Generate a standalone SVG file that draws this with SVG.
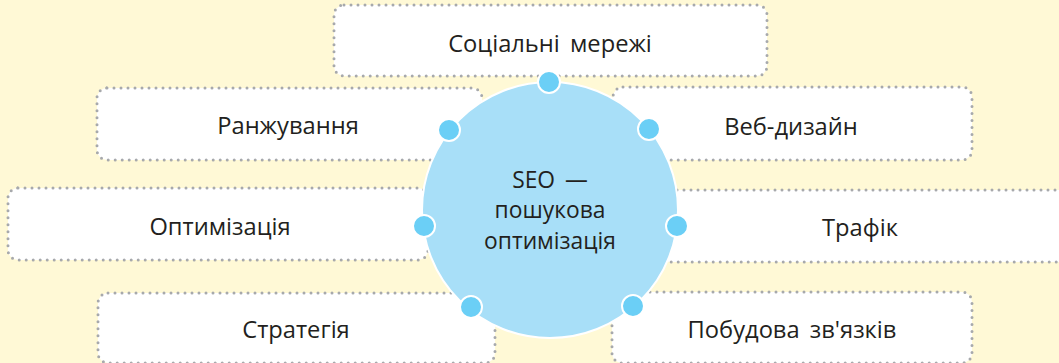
<svg xmlns="http://www.w3.org/2000/svg" width="1059" height="363" viewBox="0 0 1059 363">
<style>
.box{fill:#fff;stroke:#a7a9ac;stroke-width:3;stroke-dasharray:0 7;stroke-linecap:round}
.lbl{font-family:"Open Sans","Noto Sans",sans-serif;font-size:23.7px;fill:#231f20;text-anchor:middle;word-spacing:4px}
.c{font-size:22.8px}
.dot{fill:#6bcff6;stroke:#fff;stroke-width:2}
</style>
<rect width="1059" height="363" fill="#fff9d6"/>
<g id="n-social"><rect class="box" x="334" y="5" width="433" height="71" rx="10"/><text class="lbl" x="550" y="52">Соціальні мережі</text></g>
<g id="n-rank"><rect class="box" x="97" y="88" width="385" height="72" rx="10"/><text class="lbl" x="288" y="134">Ранжування</text></g>
<g id="n-web"><rect class="box" x="613" y="87" width="359" height="73" rx="10"/><text class="lbl" x="791" y="135">Веб-дизайн</text></g>
<g id="n-opt"><rect class="box" x="8" y="188" width="420" height="72" rx="10"/><text class="lbl" x="220" y="235">Оптимізація</text></g>
<g id="n-traffic"><rect class="box" x="660" y="190" width="420" height="72" rx="10"/><text class="lbl" x="860" y="236">Трафік</text></g>
<g id="n-strat"><rect class="box" x="98" y="293" width="397" height="70" rx="10"/><text class="lbl" x="296" y="338">Стратегія</text></g>
<g id="n-links"><rect class="box" x="612" y="292" width="360" height="71" rx="10"/><text class="lbl" x="792" y="338">Побудова зв'язків</text></g>
<g id="n-seo">
<circle cx="550" cy="210" r="128" fill="#a8dff8" stroke="#fff" stroke-width="2"/>
<text class="lbl c" x="550" y="188">SEO —</text>
<text class="lbl c" x="550" y="218">пошукова</text>
<text class="lbl c" x="550" y="249">оптимізація</text>
</g>
<g id="connectors">
<circle class="dot" cx="549" cy="82" r="11"/>
<circle class="dot" cx="449" cy="130" r="11"/>
<circle class="dot" cx="649" cy="129" r="11"/>
<circle class="dot" cx="424" cy="226" r="11"/>
<circle class="dot" cx="677" cy="226" r="11"/>
<circle class="dot" cx="471" cy="307" r="11"/>
<circle class="dot" cx="633" cy="306" r="11"/>
</g>
</svg>
